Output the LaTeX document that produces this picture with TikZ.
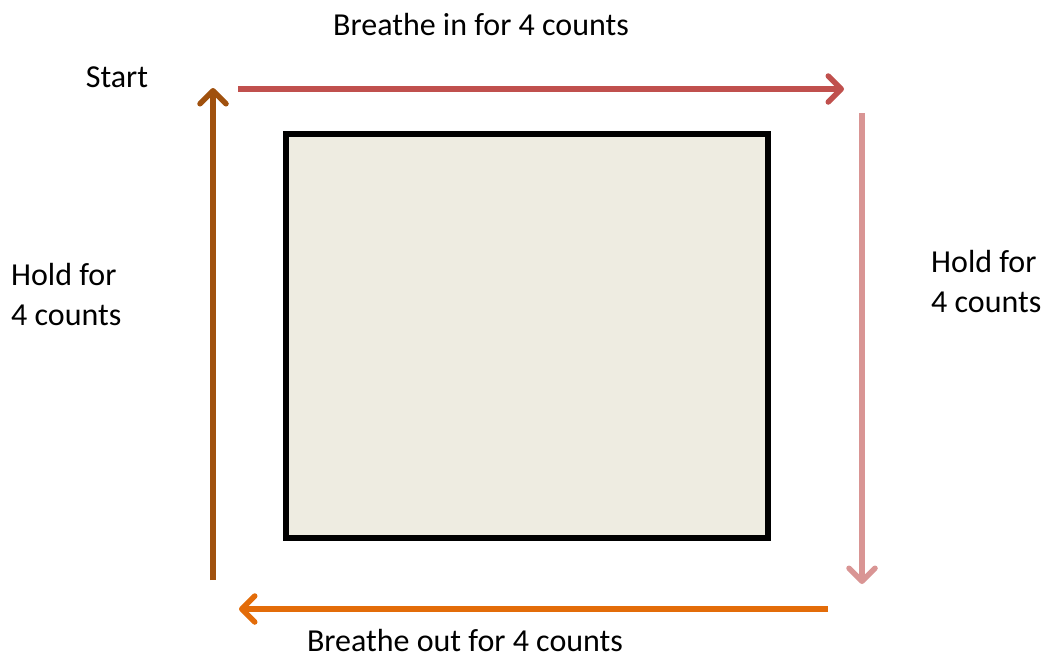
\documentclass[tikz,border=0pt]{standalone}
\usepackage{fontspec}
\setmainfont{Carlito}
\usetikzlibrary{arrows.meta}
\definecolor{cin}{RGB}{192,80,77}
\definecolor{chold}{RGB}{217,149,148}
\definecolor{cout}{RGB}{227,108,9}
\definecolor{chold2}{RGB}{160,81,14}
\definecolor{cfill}{RGB}{238,236,225}
\begin{document}
\begin{tikzpicture}[x=1pt,y=-1pt,
  arr/.style={line width=5.5pt,-{Straight Barb[length=13pt,width=26pt,line cap=round,line join=round]}},
  lbl/.style={font=\fontsize{32}{40}\selectfont,inner sep=0pt},
  lbll/.style={lbl,align=left,anchor=west}]
\useasboundingbox (0,0) rectangle (1047,659);
\node[draw=black,line width=6pt,fill=cfill,minimum width=482pt,minimum height=404pt,inner sep=0pt] (box) at (527,336) {};
\coordinate (ta) at (238,89); \coordinate (tb) at (844,89);
\coordinate (ra) at (862,113); \coordinate (rb) at (862,584);
\coordinate (ba) at (828,609); \coordinate (bb) at (239,609);
\coordinate (la) at (213,580); \coordinate (lb) at (213,88);
\draw[arr,cin] (ta) -- (tb);
\draw[arr,chold] (ra) -- (rb);
\draw[arr,cout] (ba) -- (bb);
\draw[arr,chold2] (la) -- (lb);
\node[lbl] (tin) at (481,25) {Breathe in for 4 counts};
\node[lbl] (start) at (117,77) {Start};
\node[lbl] (tout) at (465,640) {Breathe out for 4 counts};
\node[lbll] (hl) at (11,295) {Hold for\\4 counts};
\node[lbll] (hr) at (931,282) {Hold for\\4 counts};
\end{tikzpicture}
\end{document}
